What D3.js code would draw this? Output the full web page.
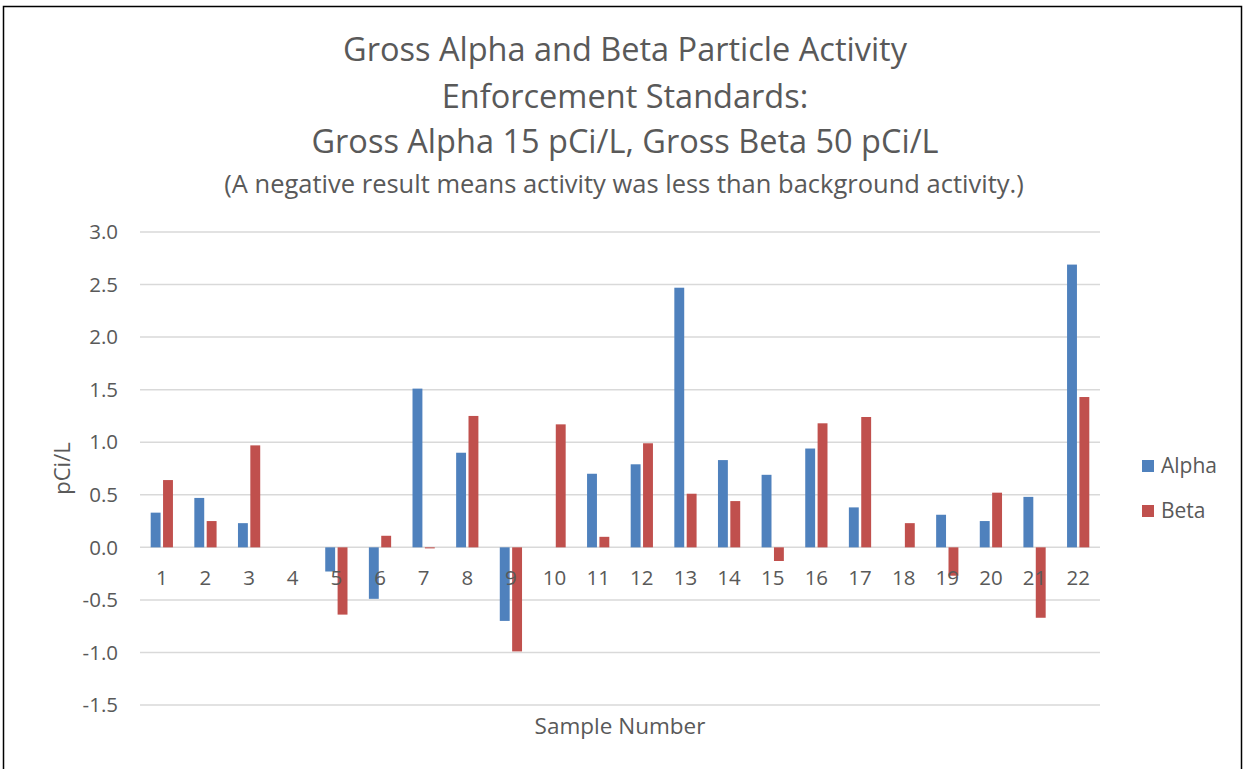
<!DOCTYPE html>
<html>
<head>
<meta charset="utf-8">
<script src="https://cdn.jsdelivr.net/npm/d3@7"></script>
<style>
  html, body { margin: 0; padding: 0; background: #fff; }
  svg { display: block; }
  text { font-family: "Open Sans", "Noto Sans", sans-serif; fill: #595959; }
</style>
</head>
<body>
<svg id="chart" width="1245" height="769"></svg>
<script>
const categories = ["1","2","3","4","5","6","7","8","9","10","11","12","13","14","15","16","17","18","19","20","21","22"];
const seriesNames = ["Alpha", "Beta"];
const alphaValues = [0.33, 0.47, 0.23, 0, -0.23, -0.49, 1.51, 0.90, -0.70, 0, 0.70, 0.79, 2.47, 0.83, 0.69, 0.94, 0.38, 0, 0.31, 0.25, 0.48, 2.69];
const betaValues  = [0.64, 0.25, 0.97, 0, -0.64, 0.11, -0.01, 1.25, -0.99, 1.17, 0.10, 0.99, 0.51, 0.44, -0.13, 1.18, 1.24, 0.23, -0.27, 0.52, -0.67, 1.43];
const yTicks = [3.0, 2.5, 2.0, 1.5, 1.0, 0.5, 0.0, -0.5, -1.0, -1.5];
const titleLines = ["Gross Alpha and Beta Particle Activity", "Enforcement Standards:", "Gross Alpha 15 pCi/L, Gross Beta 50 pCi/L"];
const subtitle = "(A negative result means activity was less than background activity.)";
const colors = { Alpha: "#4F81BD", Beta: "#C0504D" };

const svg = d3.select("#chart");

// outer border
svg.append("rect").attr("x", 3.5).attr("y", 6.5).attr("width", 1238).attr("height", 800)
  .attr("fill", "none").attr("stroke", "#000").attr("stroke-width", 1.5);

const plot = { left: 140, right: 1100, top: 232, bottom: 705 };

const y = d3.scaleLinear().domain([-1.5, 3.0]).range([plot.bottom, plot.top]);
const x0 = d3.scaleBand().domain(categories).range([plot.left, plot.right]).padding(0);
const bw = x0.bandwidth();
const x1 = d3.scaleBand().domain(seriesNames).range([bw * 0.245, bw * 0.755]).paddingInner(0.2);

// gridlines
svg.append("g").selectAll("line").data(yTicks).join("line")
  .attr("x1", plot.left).attr("x2", plot.right)
  .attr("y1", d => y(d)).attr("y2", d => y(d))
  .attr("stroke", "#d9d9d9").attr("stroke-width", 1.5);

// y tick labels
const fmt = d => d3.format(".1f")(d).replace("\u2212", "-");
svg.append("g").selectAll("text").data(yTicks).join("text")
  .attr("x", 118).attr("y", d => y(d)).attr("dy", "0.35em")
  .attr("text-anchor", "end").attr("font-size", 20.5)
  .text(fmt);

// bars
const data = categories.map((c, i) => ({ cat: c, vals: [
  { key: "Alpha", v: alphaValues[i] }, { key: "Beta", v: betaValues[i] } ] }));
const groups = svg.append("g").selectAll("g").data(data).join("g")
  .attr("transform", d => `translate(${x0(d.cat)},0)`);
groups.selectAll("rect").data(d => d.vals.filter(e => e.v !== 0)).join("rect")
  .attr("x", d => x1(d.key)).attr("width", x1.bandwidth())
  .attr("y", d => y(Math.max(0, d.v)))
  .attr("height", d => Math.abs(y(d.v) - y(0)))
  .attr("fill", d => colors[d.key]);

// category labels
svg.append("g").selectAll("text").data(categories).join("text")
  .attr("x", d => x0(d) + bw / 2).attr("y", 578).attr("dy", "0.35em")
  .attr("text-anchor", "middle").attr("font-size", 20.5)
  .text(d => d);

// axis titles
svg.append("text").attr("transform", `translate(62,${(plot.top + plot.bottom) / 2}) rotate(-90)`)
  .attr("text-anchor", "middle").attr("dy", "0.35em").attr("font-size", 22).text("pCi/L");
svg.append("text").attr("x", (plot.left + plot.right) / 2).attr("y", 726).attr("dy", "0.35em")
  .attr("text-anchor", "middle").attr("font-size", 22.5).text("Sample Number");

// titles
const titleY = [50, 97, 142];
svg.append("g").selectAll("text").data(titleLines).join("text")
  .attr("x", 625).attr("y", (d, i) => titleY[i]).attr("dy", "0.35em")
  .attr("text-anchor", "middle").attr("font-size", 32.5).text(d => d);
svg.append("text").attr("x", 624).attr("y", 184).attr("dy", "0.35em")
  .attr("text-anchor", "middle").attr("font-size", 25.5).text(subtitle);

// legend
const legend = svg.append("g").selectAll("g").data(seriesNames).join("g")
  .attr("transform", (d, i) => `translate(1142,${466 + i * 45})`);
legend.append("rect").attr("x", 0).attr("y", -6).attr("width", 12).attr("height", 12)
  .attr("fill", d => colors[d]);
legend.append("text").attr("x", 19).attr("y", 0).attr("dy", "0.35em")
  .attr("font-size", 21).text(d => d);
</script>
</body>
</html>
